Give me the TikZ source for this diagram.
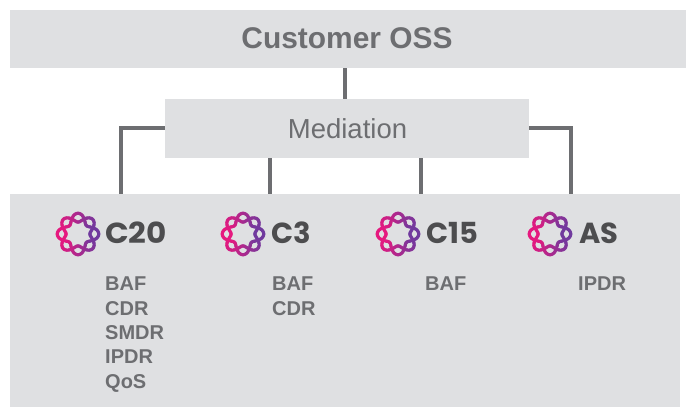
\documentclass[tikz,border=0pt]{standalone}
\usepackage{fontspec}
\setmainfont{Liberation Sans}
\newfontfamily\prodfont{Poppins}
\definecolor{boxgray}{HTML}{DFE0E2}
\definecolor{linegray}{HTML}{6D6E71}
\definecolor{darkgray}{HTML}{4D4D4F}
\definecolor{logopink}{HTML}{E6197F}
\definecolor{logopurple}{HTML}{6F3A9E}
\tikzset{
  panel/.style={fill=boxgray,draw=none,minimum height=0pt,inner sep=0pt,rectangle},
  conn/.style={draw=linegray,line width=4pt},
  prod/.style={anchor=west,inner sep=0pt,text=darkgray,font=\prodfont\fontsize{29}{29}\selectfont\bfseries},
  proto/.style={anchor=north west,inner sep=0pt,text=linegray,align=left,font=\fontsize{20}{24.3}\selectfont\bfseries}
}
\newcommand{\ringlogo}[2]{%
  \foreach \a in {0,5,...,355}{
    \pgfmathsetmacro{\b}{\a+5}
    \pgfmathtruncatemacro{\mix}{100*(1+cos(\a+2.5))/2}
    \colorlet{segcol}{logopurple!\mix!logopink}
    \draw[segcol,line width=3.2pt,line cap=round]
      ({#1+(16.3+4.5*cos(4*\a))*cos(\a)},{#2+(16.3+4.5*cos(4*\a))*sin(\a)}) --
      ({#1+(16.3+4.5*cos(4*\b))*cos(\b)},{#2+(16.3+4.5*cos(4*\b))*sin(\b)});
    \draw[segcol,line width=3.2pt,line cap=round]
      ({#1+(16.3-4.5*cos(4*\a))*cos(\a)},{#2+(16.3-4.5*cos(4*\a))*sin(\a)}) --
      ({#1+(16.3-4.5*cos(4*\b))*cos(\b)},{#2+(16.3-4.5*cos(4*\b))*sin(\b)});
  }}
\begin{document}
\begin{tikzpicture}[x=1pt,y=-1pt]
\useasboundingbox (0,0) rectangle (691,407);
\fill[white] (0,0) rectangle (691,407);
\node[panel,minimum width=676pt,minimum height=58pt,anchor=north west] (oss) at (10,10) {};
\node[panel,minimum width=364pt,minimum height=59pt,anchor=north west] (med) at (165,99) {};
\node[panel,minimum width=670pt,minimum height=213pt,anchor=north west] (base) at (10,194) {};
\coordinate (c20top) at (121,194);
\coordinate (c3top) at (269.5,194);
\coordinate (c15top) at (420.5,194);
\coordinate (astop) at (571,194);
\coordinate (medb3) at (269.5,158);
\coordinate (medb15) at (420.5,158);
\coordinate (ossb) at (345,68);
\coordinate (medt) at (345,99);
\coordinate (medl) at (165,128);
\coordinate (medr) at (529,128);
\draw[conn] (ossb) -- (medt);
\draw[conn] (medl) -| (c20top);
\draw[conn] (medb3) -- (c3top);
\draw[conn] (medb15) -- (c15top);
\draw[conn] (medr) -| (astop);
\node[inner sep=0pt,text=linegray,font=\fontsize{29.9}{30}\selectfont\bfseries] (ossl) at (347,38) {Customer OSS};
\node[inner sep=0pt,text=linegray,font=\fontsize{27.5}{28}\selectfont] (medlab) at (347.5,128.5) {Mediation};
\ringlogo{78}{234}
\ringlogo{243}{234}
\ringlogo{398}{234}
\ringlogo{550}{234}
\node[prod,xscale=1.07] (c20) at (105,233) {C20};
\node[prod] (c3) at (271,233) {C3};
\node[prod] (c15) at (426,233) {C15};
\node[prod] (as) at (579,233) {AS};
\node[proto] (p1) at (105,277) {BAF\\CDR\\SMDR\\IPDR\\QoS};
\node[proto] (p2) at (272,277) {BAF\\CDR};
\node[proto] (p3) at (425,277) {BAF};
\node[proto] (p4) at (578,277) {IPDR};
\end{tikzpicture}
\end{document}
